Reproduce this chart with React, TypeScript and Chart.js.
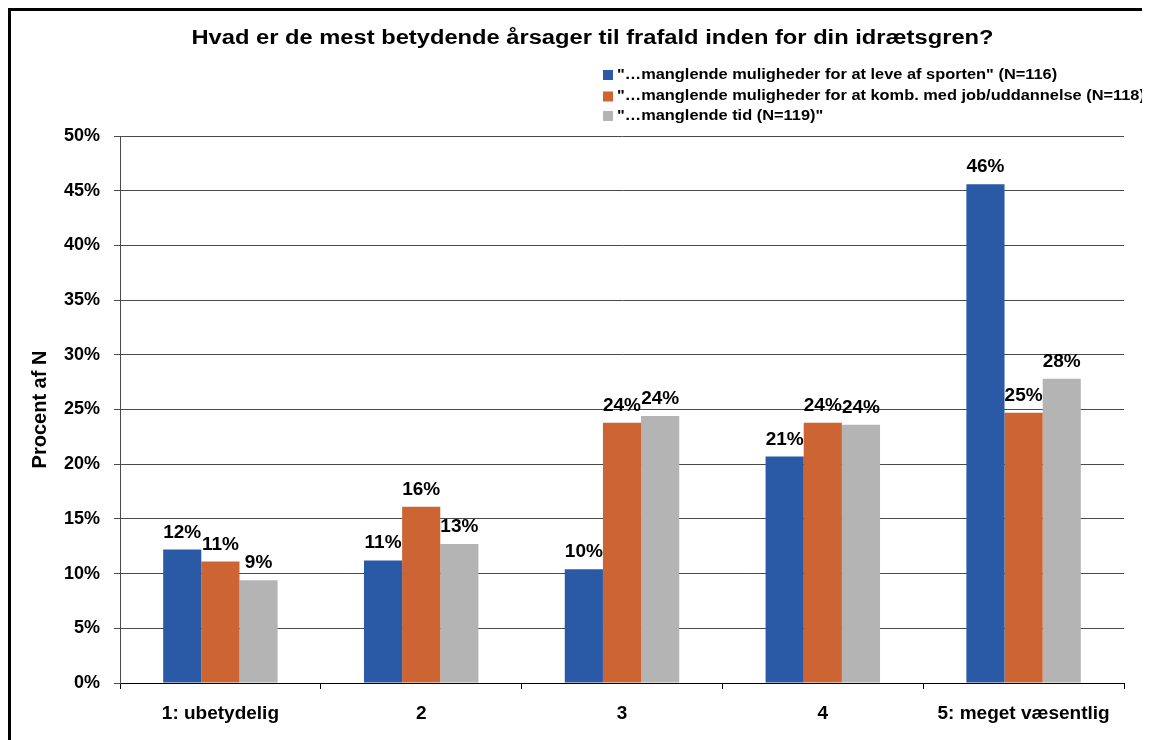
import React, { useEffect, useRef } from "react";
import { Chart, registerables } from "chart.js";

Chart.register(...registerables);

const FONT = '"Liberation Sans", Arial, Helvetica, sans-serif';

const chartTitle = "Hvad er de mest betydende årsager til frafald inden for din idrætsgren?";
const categories = ["1: ubetydelig", "2", "3", "4", "5: meget væsentlig"];
const seriesNames = [
  '"…manglende muligheder for at leve af sporten" (N=116)',
  '"…manglende muligheder for at komb. med job/uddannelse (N=118)"',
  '"…manglende tid (N=119)"',
];
const seriesColors = ["#2A5AA5", "#CC6533", "#B4B4B4"];
const leveAfSporten = [12.2, 11.2, 10.4, 20.7, 45.6];
const kombJobUddannelse = [11.1, 16.1, 23.8, 23.8, 24.7];
const manglendeTid = [9.4, 12.7, 24.4, 23.6, 27.8];
const yAxisTitle = "Procent af N";
const yMax = 50;
const yStep = 5;

function stretchedText(ctx: any, text: string, x: number, y: number, sx: number) {
  ctx.save();
  ctx.translate(x, y);
  ctx.scale(sx, 1);
  ctx.fillText(text, 0, 0);
  ctx.restore();
}

const titlePlugin = {
  id: "customTitle",
  afterDraw(chart: any) {
    const ctx = chart.ctx;
    ctx.save();
    ctx.font = `bold 20px ${FONT}`;
    ctx.fillStyle = "#000";
    ctx.textAlign = "center";
    ctx.textBaseline = "middle";
    stretchedText(ctx, chartTitle, 581.5, 27, 1.185);
    ctx.restore();
  },
};

const legendPlugin = {
  id: "customLegend",
  afterDraw(chart: any) {
    const ctx = chart.ctx;
    ctx.save();
    ctx.font = `bold 14px ${FONT}`;
    ctx.textAlign = "left";
    ctx.textBaseline = "middle";
    const rows = [64, 85.5, 105];
    chart.data.datasets.forEach((ds: any, i: number) => {
      const y = rows[i];
      ctx.fillStyle = ds.backgroundColor;
      ctx.fillRect(592, y - 5, 10, 10);
      ctx.fillStyle = "#000";
      stretchedText(ctx, ds.label, 606, y, 1.17);
    });
    ctx.restore();
  },
};

const dataLabelPlugin = {
  id: "dataLabels",
  afterDatasetsDraw(chart: any) {
    const ctx = chart.ctx;
    ctx.save();
    ctx.font = `bold 19px ${FONT}`;
    ctx.fillStyle = "#000";
    ctx.textAlign = "center";
    ctx.textBaseline = "alphabetic";
    chart.data.datasets.forEach((ds: any, i: number) => {
      const meta = chart.getDatasetMeta(i);
      meta.data.forEach((el: any, j: number) => {
        const v = ds.data[j];
        ctx.fillText(Math.round(v) + "%", el.x, el.y - 12);
      });
    });
    ctx.restore();
  },
};

export default function App() {
  const ref = useRef<HTMLCanvasElement>(null);
  useEffect(() => {
    document.documentElement.style.overflow = "hidden";
    document.body.style.overflow = "hidden";
    const chart = new Chart(ref.current!, {
      type: "bar",
      data: {
        labels: categories,
        datasets: [leveAfSporten, kombJobUddannelse, manglendeTid].map((d, i) => ({
          label: seriesNames[i],
          data: d,
          backgroundColor: seriesColors[i],
          borderWidth: 0,
          categoryPercentage: 0.57,
          barPercentage: 1.0,
        })),
      },
      options: {
        animation: false,
        responsive: false,
        devicePixelRatio: 1,
        layout: { padding: { top: 125, right: 29, bottom: 0, left: 0 } },
        plugins: {
          legend: { display: false },
          title: { display: false },
          tooltip: { enabled: false },
        },
        scales: {
          x: {
            grid: {
              display: true,
              drawOnChartArea: false,
              drawTicks: true,
              tickLength: 6,
              color: "#000",
              offset: true,
            },
            border: { color: "#000", width: 1 },
            ticks: {
              color: "#000",
              font: { family: FONT, size: 19, weight: "bold" },
              padding: 13,
              maxRotation: 0,
            },
            afterFit: (s: any) => {
              s.height = 57;
            },
          },
          y: {
            min: 0,
            max: yMax,
            ticks: {
              stepSize: yStep,
              color: "#000",
              font: { family: FONT, size: 18, weight: "bold" },
              padding: 14,
              callback: (v: any) => v + "%",
            },
            grid: { color: "#4a4a4a", tickLength: 6, lineWidth: 1 },
            border: { color: "#4a4a4a", width: 1 },
            title: {
              display: true,
              text: yAxisTitle,
              color: "#000",
              font: { family: FONT, size: 20, weight: "bold" },
              padding: { top: 17, bottom: 0 },
            },
            afterFit: (s: any) => {
              s.width = 109;
            },
          },
        },
      },
      plugins: [titlePlugin, legendPlugin, dataLabelPlugin],
    });
    return () => chart.destroy();
  }, []);
  return (
    <div style={{ width: 1142, height: 729, border: "3px solid #000", background: "#fff" }}>
      <canvas ref={ref} width={1142} height={729} style={{ display: "block" }} />
    </div>
  );
}
